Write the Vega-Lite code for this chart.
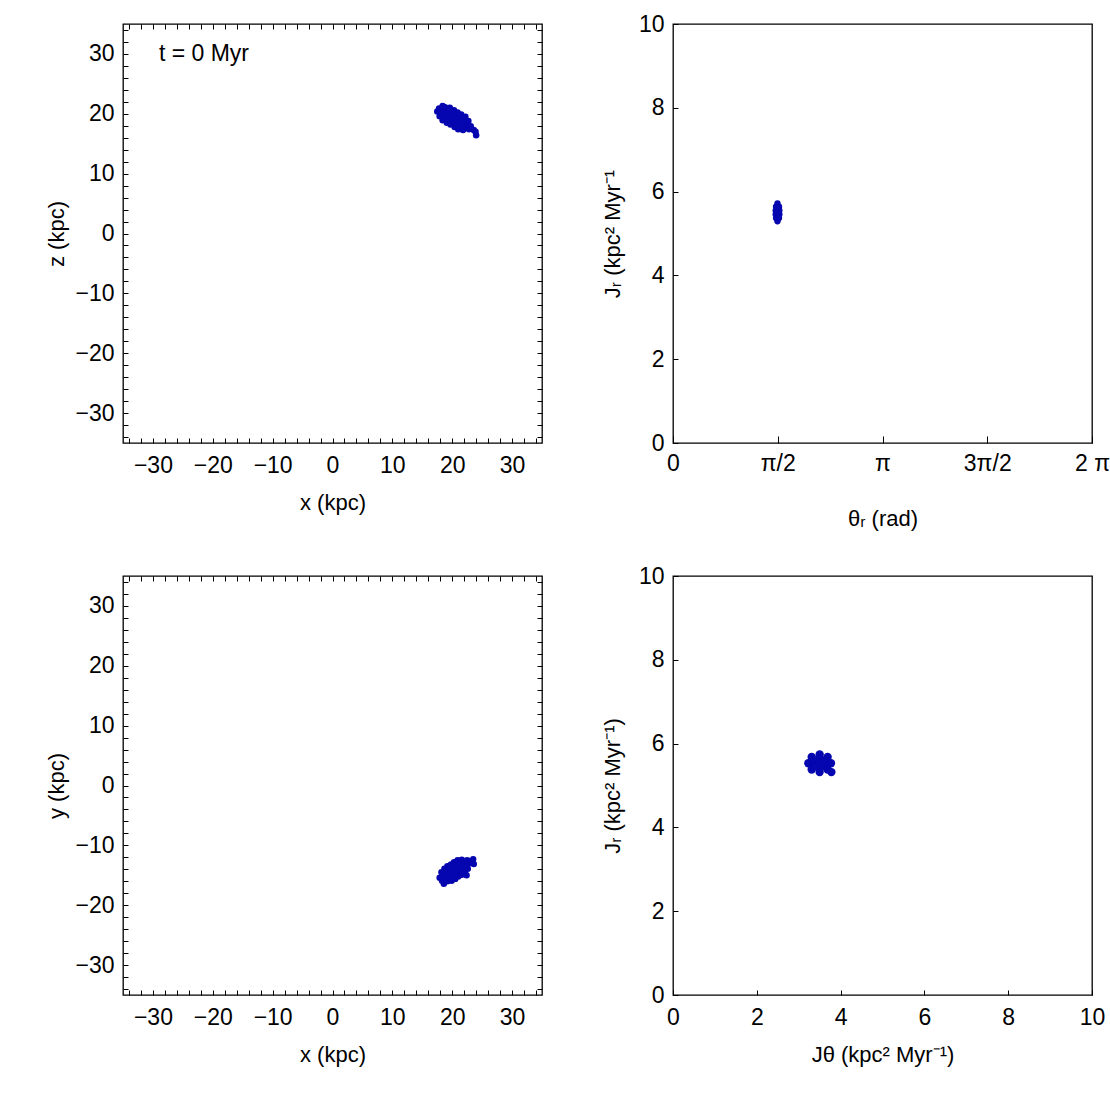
{
  "$schema": "https://vega.github.io/schema/vega-lite/v6.json",
  "background": "white",
  "padding": {"left": 45, "top": 12, "right": 10, "bottom": 10},
  "columns": 2,
  "spacing": {"row": 133, "column": 131},
  "bounds": "flush",
  "datasets": {
    "xz": [
      {"x": 17.5, "z": 20.4}, {"x": 17.8, "z": 20.9},
      {"x": 17.9, "z": 19.6}, {"x": 18.2, "z": 20.1}, {"x": 18.5, "z": 20.6}, {"x": 18.8, "z": 21.1},
      {"x": 18.6, "z": 19.2}, {"x": 18.9, "z": 19.7}, {"x": 19.2, "z": 20.2}, {"x": 19.5, "z": 20.7},
      {"x": 19.2, "z": 18.8}, {"x": 19.5, "z": 19.3}, {"x": 19.8, "z": 19.8}, {"x": 20.1, "z": 20.4},
      {"x": 19.9, "z": 18.4}, {"x": 20.2, "z": 18.9}, {"x": 20.5, "z": 19.5}, {"x": 20.8, "z": 20.0},
      {"x": 20.5, "z": 18.1}, {"x": 20.8, "z": 18.6}, {"x": 21.1, "z": 19.1}, {"x": 21.4, "z": 19.6},
      {"x": 21.2, "z": 17.7}, {"x": 21.5, "z": 18.2}, {"x": 21.8, "z": 18.7}, {"x": 22.0, "z": 19.2},
      {"x": 21.8, "z": 17.3}, {"x": 22.1, "z": 17.8}, {"x": 22.4, "z": 18.3}, {"x": 22.7, "z": 18.8},
      {"x": 22.8, "z": 17.4}, {"x": 23.1, "z": 17.9},
      {"x": 19.6, "z": 21.0}, {"x": 18.4, "z": 18.9}, {"x": 20.3, "z": 20.6}, {"x": 19.1, "z": 18.5},
      {"x": 20.9, "z": 20.2}, {"x": 19.7, "z": 18.2}, {"x": 21.5, "z": 19.9}, {"x": 20.4, "z": 17.8},
      {"x": 22.2, "z": 19.5}, {"x": 21.0, "z": 17.4}, {"x": 18.4, "z": 21.3},
      {"x": 23.6, "z": 17.3}, {"x": 23.9, "z": 17.0}, {"x": 24.0, "z": 16.4}
    ],
    "xy": [
      {"x": 18.3, "z": -15.9}, {"x": 17.9, "z": -15.4},
      {"x": 19.2, "z": -16.0}, {"x": 18.9, "z": -15.5}, {"x": 18.5, "z": -15.0}, {"x": 18.2, "z": -14.5},
      {"x": 19.8, "z": -15.6}, {"x": 19.5, "z": -15.1}, {"x": 19.1, "z": -14.6}, {"x": 18.8, "z": -14.1},
      {"x": 20.3, "z": -15.3}, {"x": 20.0, "z": -14.8}, {"x": 19.7, "z": -14.3}, {"x": 19.4, "z": -13.8},
      {"x": 20.9, "z": -15.0}, {"x": 20.6, "z": -14.5}, {"x": 20.2, "z": -13.9}, {"x": 19.9, "z": -13.4},
      {"x": 21.4, "z": -14.6}, {"x": 21.1, "z": -14.1}, {"x": 20.8, "z": -13.6}, {"x": 20.5, "z": -13.1},
      {"x": 22.0, "z": -14.3}, {"x": 21.7, "z": -13.8}, {"x": 21.3, "z": -13.3}, {"x": 21.0, "z": -12.8},
      {"x": 22.6, "z": -13.9}, {"x": 22.3, "z": -13.4}, {"x": 21.9, "z": -12.9}, {"x": 21.6, "z": -12.4},
      {"x": 22.9, "z": -13.0}, {"x": 22.5, "z": -12.5},
      {"x": 18.7, "z": -13.9}, {"x": 19.9, "z": -15.9}, {"x": 19.2, "z": -13.5}, {"x": 20.5, "z": -15.6},
      {"x": 19.8, "z": -13.2}, {"x": 21.0, "z": -15.2}, {"x": 20.3, "z": -12.8}, {"x": 21.6, "z": -14.9},
      {"x": 20.9, "z": -12.5}, {"x": 22.1, "z": -14.5}, {"x": 18.6, "z": -16.4},
      {"x": 23.5, "z": -12.3}, {"x": 23.2, "z": -12.7}, {"x": 23.6, "z": -13.1}, {"x": 22.4, "z": -15.0}
    ],
    "tj": [
      {"theta": 1.567, "jr": 5.72}, {"theta": 1.545, "jr": 5.64}, {"theta": 1.59, "jr": 5.64},
      {"theta": 1.54, "jr": 5.55}, {"theta": 1.567, "jr": 5.55}, {"theta": 1.595, "jr": 5.55},
      {"theta": 1.54, "jr": 5.46}, {"theta": 1.567, "jr": 5.46}, {"theta": 1.595, "jr": 5.46},
      {"theta": 1.545, "jr": 5.37}, {"theta": 1.59, "jr": 5.37}, {"theta": 1.567, "jr": 5.29},
      {"theta": 1.567, "jr": 5.38}, {"theta": 1.567, "jr": 5.63}
    ],
    "jj": [
      {"jt": 3.77, "jr": 5.53}, {"jt": 3.69, "jr": 5.68}, {"jt": 3.5, "jr": 5.74}, {"jt": 3.31, "jr": 5.68},
      {"jt": 3.23, "jr": 5.53}, {"jt": 3.31, "jr": 5.38}, {"jt": 3.5, "jr": 5.32}, {"jt": 3.69, "jr": 5.38},
      {"jt": 3.635, "jr": 5.53}, {"jt": 3.5, "jr": 5.635}, {"jt": 3.365, "jr": 5.53}, {"jt": 3.5, "jr": 5.425},
      {"jt": 3.6, "jr": 5.6}, {"jt": 3.4, "jr": 5.6}, {"jt": 3.4, "jr": 5.46}, {"jt": 3.6, "jr": 5.46},
      {"jt": 3.5, "jr": 5.53}, {"jt": 3.78, "jr": 5.32}
    ]
  },
  "concat": [
    {
      "width": 419, "height": 419,
      "data": {"name": "xz"},
      "layer": [
        {
          "mark": {"type": "point", "filled": true, "size": 42, "color": "#0606b0", "opacity": 1},
          "encoding": {
            "x": {"field": "x", "type": "quantitative", "scale": {"domain": [-35, 35], "nice": false, "zero": false},
              "axis": {"title": "x (kpc)", "values": [-34,-32,-30,-28,-26,-24,-22,-20,-18,-16,-14,-12,-10,-8,-6,-4,-2,0,2,4,6,8,10,12,14,16,18,20,22,24,26,28,30,32,34], "labelExpr": "datum.value % 10 === 0 ? datum.label : ''"}},
            "y": {"field": "z", "type": "quantitative", "scale": {"domain": [-35, 35], "nice": false, "zero": false},
              "axis": {"title": "z (kpc)", "values": [-34,-32,-30,-28,-26,-24,-22,-20,-18,-16,-14,-12,-10,-8,-6,-4,-2,0,2,4,6,8,10,12,14,16,18,20,22,24,26,28,30,32,34], "labelExpr": "datum.value % 10 === 0 ? datum.label : ''"}}
          }
        },
        {
          "mark": {"type": "point", "opacity": 0},
          "encoding": {
            "x": {"field": "x", "type": "quantitative", "axis": {"orient": "top", "labels": false, "title": null, "values": [-34,-32,-30,-28,-26,-24,-22,-20,-18,-16,-14,-12,-10,-8,-6,-4,-2,0,2,4,6,8,10,12,14,16,18,20,22,24,26,28,30,32,34]}},
            "y": {"field": "z", "type": "quantitative", "axis": {"orient": "right", "labels": false, "title": null, "values": [-34,-32,-30,-28,-26,-24,-22,-20,-18,-16,-14,-12,-10,-8,-6,-4,-2,0,2,4,6,8,10,12,14,16,18,20,22,24,26,28,30,32,34]}}
          }
        },
        {
          "data": {"values": [{"x": -29, "z": 30, "label": "t = 0 Myr"}]},
          "mark": {"type": "text", "align": "left", "baseline": "middle", "fontSize": 23, "font": "Liberation Sans", "color": "black"},
          "encoding": {
            "x": {"field": "x", "type": "quantitative", "axis": null},
            "y": {"field": "z", "type": "quantitative", "axis": null},
            "text": {"field": "label"}
          }
        }
      ],
      "resolve": {"axis": {"x": "independent", "y": "independent"}}
    },
    {
      "width": 419, "height": 419,
      "data": {"name": "tj"},
      "mark": {"type": "point", "filled": true, "size": 40, "color": "#0606b0", "opacity": 1},
      "encoding": {
        "x": {"field": "theta", "type": "quantitative", "scale": {"domain": [0, 6.283185307], "nice": false, "zero": false},
          "axis": {"title": "θᵣ (rad)", "values": [0, 1.5707963, 3.1415927, 4.712389, 6.2831853], "labelExpr": "['0','π/2','π','3π/2','2 π'][round(datum.value*2/PI)]", "titlePadding": 33, "tickSize": -7}},
        "y": {"field": "jr", "type": "quantitative", "scale": {"domain": [0, 10], "nice": false, "zero": false},
          "axis": {"title": "Jᵣ (kpc² Myr⁻¹", "values": [0, 2, 4, 6, 8, 10], "titlePadding": 14}}
      }
    },
    {
      "width": 419, "height": 419,
      "data": {"name": "xy"},
      "layer": [
        {
          "mark": {"type": "point", "filled": true, "size": 42, "color": "#0606b0", "opacity": 1},
          "encoding": {
            "x": {"field": "x", "type": "quantitative", "scale": {"domain": [-35, 35], "nice": false, "zero": false},
              "axis": {"title": "x (kpc)", "values": [-34,-32,-30,-28,-26,-24,-22,-20,-18,-16,-14,-12,-10,-8,-6,-4,-2,0,2,4,6,8,10,12,14,16,18,20,22,24,26,28,30,32,34], "labelExpr": "datum.value % 10 === 0 ? datum.label : ''"}},
            "y": {"field": "z", "type": "quantitative", "scale": {"domain": [-35, 35], "nice": false, "zero": false},
              "axis": {"title": "y (kpc)", "values": [-34,-32,-30,-28,-26,-24,-22,-20,-18,-16,-14,-12,-10,-8,-6,-4,-2,0,2,4,6,8,10,12,14,16,18,20,22,24,26,28,30,32,34], "labelExpr": "datum.value % 10 === 0 ? datum.label : ''"}}
          }
        },
        {
          "mark": {"type": "point", "opacity": 0},
          "encoding": {
            "x": {"field": "x", "type": "quantitative", "axis": {"orient": "top", "labels": false, "title": null, "values": [-34,-32,-30,-28,-26,-24,-22,-20,-18,-16,-14,-12,-10,-8,-6,-4,-2,0,2,4,6,8,10,12,14,16,18,20,22,24,26,28,30,32,34]}},
            "y": {"field": "z", "type": "quantitative", "axis": {"orient": "right", "labels": false, "title": null, "values": [-34,-32,-30,-28,-26,-24,-22,-20,-18,-16,-14,-12,-10,-8,-6,-4,-2,0,2,4,6,8,10,12,14,16,18,20,22,24,26,28,30,32,34]}}
          }
        }
      ],
      "resolve": {"axis": {"x": "independent", "y": "independent"}}
    },
    {
      "width": 419, "height": 419,
      "data": {"name": "jj"},
      "mark": {"type": "point", "filled": true, "size": 70, "color": "#0606b0", "opacity": 1},
      "encoding": {
        "x": {"field": "jt", "type": "quantitative", "scale": {"domain": [0, 10], "nice": false, "zero": false},
          "axis": {"title": "Jθ (kpc² Myr⁻¹)", "values": [0, 2, 4, 6, 8, 10]}},
        "y": {"field": "jr", "type": "quantitative", "scale": {"domain": [0, 10], "nice": false, "zero": false},
          "axis": {"title": "Jᵣ (kpc² Myr⁻¹)", "values": [0, 2, 4, 6, 8, 10], "titlePadding": 14}}
      }
    }
  ],
  "config": {
    "font": "Liberation Sans",
    "view": {"stroke": "black", "strokeWidth": 1.3},
    "axis": {
      "grid": false, "domain": false, "ticks": true, "tickColor": "black", "tickSize": -5, "tickWidth": 1,
      "labelFont": "Liberation Sans", "labelFontSize": 23, "labelColor": "black", "labelPadding": 16,
      "labelFlush": false, "labelOverlap": false,
      "titleFont": "Liberation Sans", "titleFontSize": 22, "titleFontWeight": "normal", "titleColor": "black", "titlePadding": 15
    },
    "axisY": {"labelPadding": 14, "titlePadding": 6}
  }
}
